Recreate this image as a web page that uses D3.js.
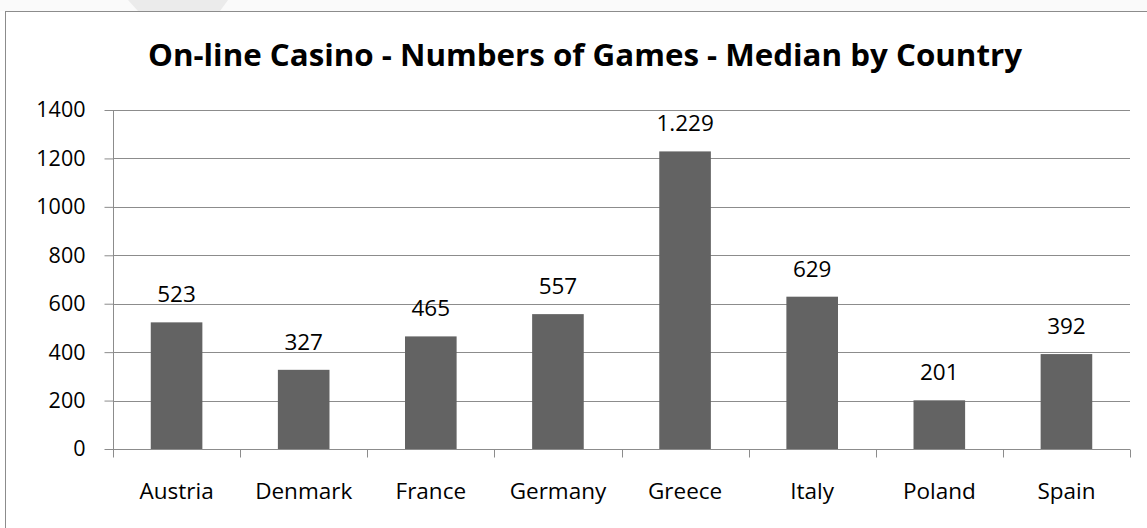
<!DOCTYPE html>
<html><head><meta charset="utf-8">
<script src="https://cdn.jsdelivr.net/npm/d3@7"></script>
<style>html,body{margin:0;padding:0;background:#fff;}svg{display:block;}</style>
</head><body>
<svg id="c" width="1147" height="528"></svg>
<script>
const title = "On-line Casino - Numbers of Games - Median by Country";
const categories = ["Austria","Denmark","France","Germany","Greece","Italy","Poland","Spain"];
const values = [523,327,465,557,1229,629,201,392];
const valueLabels = ["523","327","465","557","1.229","629","201","392"];
const yTicks = [0,200,400,600,800,1000,1200,1400];

const svg = d3.select("#c");
const font = "'Open Sans', sans-serif";

// page background strip above chart
svg.append("rect").attr("x",0).attr("y",0).attr("width",1147).attr("height",11).attr("fill","#fafafa");
svg.append("polygon").attr("points","128,0 228,0 220,11 138,11").attr("fill","#ebebeb");
// chart border
svg.append("rect").attr("x",5.5).attr("y",11.5).attr("width",1150).attr("height",530)
  .attr("fill","#fff").attr("stroke","#8c8c8c").attr("stroke-width",1);

const x0 = 113, x1 = 1130, yTop = 110, yBot = 449;
const x = d3.scaleBand().domain(categories).range([x0,x1]).paddingInner(0.594).paddingOuter(0.297);
const y = d3.scaleLinear().domain([0,1400]).range([yBot,yTop]);

// gridlines
svg.append("g").selectAll("line").data(yTicks.filter(d=>d>0)).join("line")
  .attr("x1",x0).attr("x2",x1).attr("y1",d=>Math.round(y(d))+0.5).attr("y2",d=>Math.round(y(d))+0.5)
  .attr("stroke","#8c8c8c").attr("stroke-width",1);

// bars
svg.append("g").selectAll("rect").data(values).join("rect")
  .attr("x",(d,i)=>x(categories[i])).attr("width",x.bandwidth())
  .attr("y",d=>y(d)).attr("height",d=>yBot-y(d)).attr("fill","#636363");

// y axis
const yAxis = d3.axisLeft(y).tickValues(yTicks).tickSize(9).tickPadding(19).tickFormat(d3.format("d"));
const gy = svg.append("g").attr("transform",`translate(${x0+0.5},0)`).call(yAxis);
gy.select(".domain").attr("stroke","#8c8c8c").attr("d",`M0,${yTop}V${yBot+8}`);
gy.selectAll(".tick line").attr("stroke","#8c8c8c");
gy.selectAll(".tick text").attr("font-family",font).attr("font-size",21.5).attr("fill","#000");

// x axis
const gx = svg.append("g").attr("transform",`translate(0,${yBot+0.5})`);
gx.append("line").attr("x1",x0).attr("x2",x1).attr("stroke","#8c8c8c");
const bounds = categories.map(c=>x(c)-x.step()*x.paddingOuter()).concat([x1]);
gx.selectAll("line.tk").data(bounds).join("line").attr("class","tk")
  .attr("x1",d=>Math.round(d)+0.5).attr("x2",d=>Math.round(d)+0.5).attr("y1",0).attr("y2",8).attr("stroke","#8c8c8c");
gx.selectAll("text").data(categories).join("text")
  .attr("x",d=>x(d)+x.bandwidth()/2).attr("y",49).attr("text-anchor","middle")
  .attr("font-family",font).attr("font-size",22.5).attr("fill","#000").text(d=>d);

// value labels
svg.append("g").selectAll("text").data(values).join("text")
  .attr("x",(d,i)=>x(categories[i])+x.bandwidth()/2).attr("y",d=>y(d)-20)
  .attr("text-anchor","middle").attr("font-family",font).attr("font-size",22.5).attr("fill","#000")
  .text((d,i)=>valueLabels[i]);

// title
svg.append("text").attr("x",585).attr("y",66).attr("text-anchor","middle")
  .attr("font-family",font).attr("font-weight","bold").attr("font-size",31).attr("fill","#000")
  .attr("textLength",874).attr("lengthAdjust","spacingAndGlyphs").text(title);
</script>
</body></html>
